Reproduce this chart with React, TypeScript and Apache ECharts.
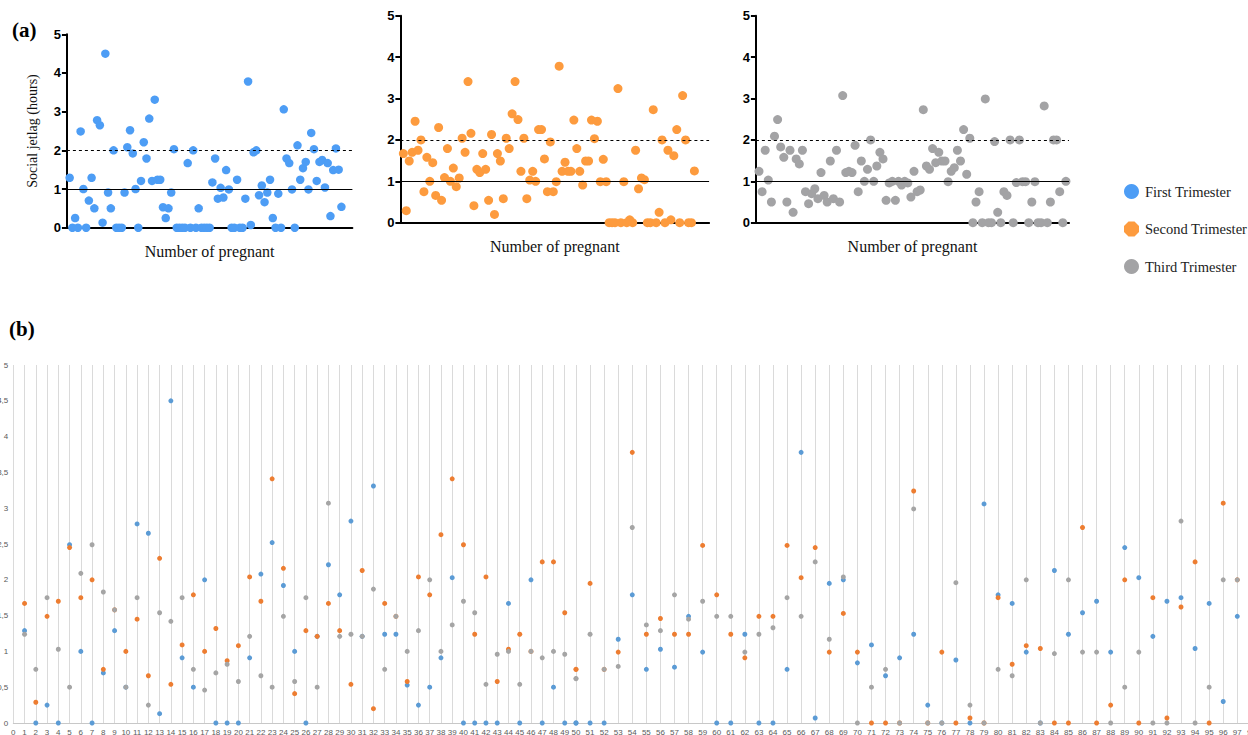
import React, { useEffect, useRef } from "react";
import * as echarts from "echarts";

// index 0..100 (index 0 has no value)
const firstTrimester: (number | null)[] = [
  null, 1.29, 0, 0.25, 0, 2.49, 1.0, 0, 0.7, 1.29, 0.5,
  2.78, 2.65, 0.13, 4.5, 0.91, 0.5, 2.0, 0, 0, 0,
  0.91, 2.08, 2.52, 1.92, 1.0, 0, 1.21, 2.21, 1.79, 2.82,
  1.21, 3.31, 1.24, 1.24, 0.53, 0.25, 0.5, 0.91, 2.03, 0,
  0, 0, 0, 1.67, 0, 2.0, 0, 0.5, 0, 0,
  0, 0, 1.17, 1.79, 0.75, 1.03, 0.78, 1.49, 0.99, 0,
  0, 1.24, 0, 0, 0.75, 3.78, 0.07, 1.95, 2.0, 0.84,
  1.09, 0.66, 0.91, 1.24, 0.25, 0, 0.88, 0, 3.06, 1.79,
  1.67, 0.99, 0, 2.13, 1.24, 1.54, 1.7, 0.99, 2.45, 2.03,
  1.21, 1.7, 1.75, 1.04, 1.67, 0.3, 1.49, 2.05, 1.5, 0.54,
];

const secondTrimester: (number | null)[] = [
  null, 1.67, 0.29, 1.49, 1.7, 2.45, 1.75, 2.0, 0.75, 1.58, 1.0,
  1.45, 0.66, 2.3, 0.54, 1.09, 1.79, 1.0, 1.32, 0.87, 1.08,
  2.04, 1.7, 3.41, 2.16, 0.41, 1.29, 1.21, 1.67, 1.29, 0.54,
  2.13, 0.2, 1.67, 1.49, 0.58, 2.04, 1.79, 2.63, 3.41, 2.49,
  1.24, 2.04, 0.58, 1.03, 1.24, 1.0, 2.25, 2.25, 1.54, 0.75,
  1.95, 0.75, 0.99, 3.78, 1.24, 1.46, 1.24, 1.24, 2.48, 1.79,
  1.24, 0.91, 1.49, 1.49, 2.48, 2.03, 2.45, 0.99, 1.53, 0.99,
  0, 0, 0, 3.24, 0, 0.99, 0, 0.07, 0, 1.75,
  0.82, 1.08, 1.04, 0, 0, 2.73, 0, 0.25, 2.0, 0,
  1.75, 0.07, 1.62, 2.25, 0, 3.07, 2.0, 0, 0, 1.25,
];

const thirdTrimester: (number | null)[] = [
  null, 1.24, 0.75, 1.75, 1.03, 0.5, 2.09, 2.49, 1.83, 1.58, 0.5,
  1.75, 0.25, 1.54, 1.42, 1.75, 0.75, 0.46, 0.7, 0.82, 0.58,
  1.21, 0.66, 0.5, 1.49, 0.58, 1.75, 0.5, 3.07, 1.21, 1.24,
  1.21, 1.87, 0.75, 1.49, 1.0, 1.29, 2.0, 1.0, 1.37, 1.7,
  1.54, 0.54, 0.96, 1.0, 0.54, 1.0, 0.91, 1.0, 0.96, 0.62,
  1.24, 0.75, 0.79, 2.73, 1.37, 1.29, 1.79, 1.45, 1.7, 1.49,
  1.49, 0.99, 1.24, 1.33, 1.75, 1.49, 2.25, 1.17, 2.04, 0,
  0.5, 0.75, 0, 2.99, 0, 0, 1.96, 0.25, 0, 0.75,
  0.66, 2.0, 0, 0.97, 2.0, 0.99, 0.99, 0, 0.5, 0.99,
  0, 0, 2.82, 0, 0.5, 2.0, 2.0, 0.75, 0, 1.0,
];

const seriesNames = ["First Trimester", "Second Trimester", "Third Trimester"];
const yTicksB = [0, 0.5, 1, 1.5, 2, 2.5, 3, 3.5, 4, 4.5, 5];

const COLORS_A = ["#4d9df5", "#fd9b3e", "#a3a3a5"];
const COLORS_B = ["#5b9bd5", "#ed7d31", "#a5a5a5"];
const OCTAGON = "path://M3,0 L7,0 L10,3 L10,7 L7,10 L3,10 L0,7 L0,3 Z";

const toPoints = (arr: (number | null)[], lo: number, hi: number) =>
  arr
    .map((v, i) => [i, v] as [number, number | null])
    .filter(([i, v]) => v !== null && i >= lo && i <= hi);

export default function App() {
  const ref = useRef<HTMLDivElement>(null);

  useEffect(() => {
    if (!ref.current) return;
    const chart = echarts.init(ref.current, null, { renderer: "svg" });
    const all = [firstTrimester, secondTrimester, thirdTrimester];

    const gridsA = [
      { left: 66.9, top: 34.3, width: 285.5, height: 193.4, max: 104 },
      { left: 400.4, top: 15.7, width: 308.7, height: 207, max: 105 },
      { left: 755.9, top: 15.7, width: 313.1, height: 207, max: 101 },
    ];

    const serifFont = "'Liberation Serif', 'Times New Roman', serif";
    const sansFont = "'Liberation Sans', Arial, sans-serif";

    const xAxes: any[] = gridsA.map((g, k) => ({
      type: "value",
      gridIndex: k,
      min: 0,
      max: g.max,
      axisLine: { show: true, lineStyle: { color: "#000", width: 2 } },
      axisTick: { show: false },
      axisLabel: { show: false },
      splitLine: { show: false },
      name: "Number of pregnant",
      nameLocation: "middle",
      nameGap: 16,
      nameTextStyle: { fontFamily: serifFont, fontSize: 16, color: "#111" },
    }));
    const yAxes: any[] = gridsA.map((g, k) => ({
      type: "value",
      gridIndex: k,
      min: 0,
      max: 5,
      interval: 1,
      axisLine: { show: true, lineStyle: { color: "#000", width: 2 } },
      axisTick: { show: true, length: 5, lineStyle: { color: "#000", width: 2 } },
      axisLabel: {
        fontFamily: sansFont,
        fontWeight: "bold",
        fontSize: 13,
        color: "#000",
        margin: 6,
      },
      splitLine: { show: false },
      ...(k === 0
        ? {
            name: "Social jetlag (hours)",
            nameLocation: "middle",
            nameGap: 27,
            nameRotate: 90,
            nameTextStyle: { fontFamily: serifFont, fontSize: 14, color: "#111" },
          }
        : {}),
    }));

    // panel (b)
    const bAxisCommon = {
      type: "value",
      interval: 1,
      axisLine: { show: true, lineStyle: { color: "#c8c8c8", width: 1 } },
      axisTick: { show: false },
      splitLine: { show: true, lineStyle: { color: "#dadada", width: 1 } },
    };
    xAxes.push({
      ...bAxisCommon,
      gridIndex: 3,
      min: 0,
      max: 50,
      axisLabel: { fontSize: 8, color: "#595959", fontFamily: sansFont, margin: 5 },
    });
    xAxes.push({
      ...bAxisCommon,
      gridIndex: 4,
      min: 50,
      max: 100,
      axisLabel: {
        fontSize: 8,
        color: "#595959",
        fontFamily: sansFont,
        margin: 5,
        showMinLabel: false,
      },
    });
    const yB = {
      type: "value",
      min: yTicksB[0],
      max: yTicksB[yTicksB.length - 1],
      interval: yTicksB[1] - yTicksB[0],
      axisLine: { show: false },
      axisTick: { show: false },
      splitLine: { show: false },
    };
    yAxes.push({
      ...yB,
      gridIndex: 3,
      axisLabel: {
        fontSize: 8,
        color: "#595959",
        fontFamily: sansFont,
        margin: 5,
        formatter: (v: number) => String(v).replace(".", ","),
      },
    });
    yAxes.push({ ...yB, gridIndex: 4, axisLabel: { show: false } });

    const series: any[] = [];
    all.forEach((arr, k) => {
      series.push({
        type: "scatter",
        name: seriesNames[k],
        xAxisIndex: k,
        yAxisIndex: k,
        symbol: "circle",
        symbolSize: k === 0 ? 8.5 : 9,
        itemStyle: { color: COLORS_A[k], opacity: 1 },
        data: toPoints(arr, 0, 200),
        markLine: {
          silent: true,
          symbol: "none",
          label: { show: false },
          data: [
            { yAxis: 2, lineStyle: { type: [3, 3], color: "#000", width: 1.2 } },
            { yAxis: 1, lineStyle: { type: "solid", color: "#000", width: 1 } },
          ],
        },
      });
    });
    all.forEach((arr, k) => {
      series.push({
        type: "scatter",
        name: seriesNames[k] + " (b)",
        xAxisIndex: 3,
        yAxisIndex: 3,
        symbol: "circle",
        symbolSize: 5,
        itemStyle: { color: COLORS_B[k], opacity: 1 },
        z: 2 + k,
        data: toPoints(arr, 0, 50),
      });
      series.push({
        type: "scatter",
        name: seriesNames[k] + " (b2)",
        xAxisIndex: 4,
        yAxisIndex: 4,
        symbol: "circle",
        symbolSize: 5,
        itemStyle: { color: COLORS_B[k], opacity: 1 },
        z: 2 + k,
        data: toPoints(arr, 50, 100),
      });
    });

    const gridBase = { outerBoundsMode: "none", containLabel: false };

    chart.setOption({
      animation: false,
      backgroundColor: "#fff",
      grid: [
        ...gridsA.map((g) => ({ ...gridBase, left: g.left, top: g.top, width: g.width, height: g.height })),
        { ...gridBase, left: 13.3, top: 365, width: 562.7, height: 358 },
        { ...gridBase, left: 576, top: 365, width: 703.5, height: 358 },
      ],
      xAxis: xAxes,
      yAxis: yAxes,
      legend: {
        orient: "vertical",
        left: 1119,
        top: 179,
        itemWidth: 15,
        itemHeight: 15,
        itemGap: 22.5,
        selectedMode: false,
        textStyle: { fontFamily: serifFont, fontSize: 14.5, color: "#222", padding: [0, 0, 0, 1] },
        data: [
          { name: seriesNames[0], icon: "circle" },
          { name: seriesNames[1], icon: OCTAGON },
          { name: seriesNames[2], icon: "circle" },
        ],
      },
      graphic: [
        {
          type: "text",
          left: 12,
          top: 19,
          style: { text: "(a)", fontFamily: serifFont, fontSize: 21, fontWeight: "bold", fill: "#000" },
        },
        {
          type: "text",
          left: 9,
          top: 318,
          style: { text: "(b)", fontFamily: serifFont, fontSize: 21, fontWeight: "bold", fill: "#000" },
        },
      ],
      series,
    });
    return () => chart.dispose();
  }, []);

  return (
    <div
      ref={ref}
      style={{ position: "fixed", left: 0, top: 0, width: 1248, height: 735, background: "#fff" }}
    />
  );
}
